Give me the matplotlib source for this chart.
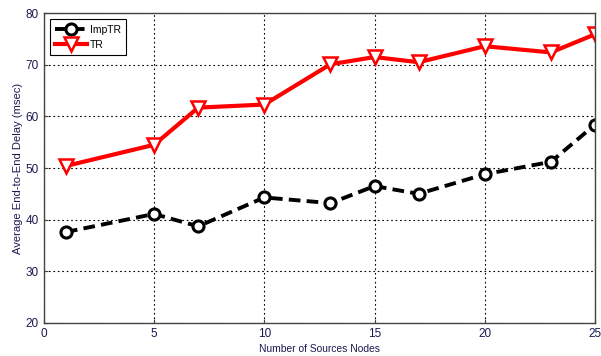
import matplotlib
matplotlib.use('Agg')
import matplotlib.pyplot as plt

plt.rcParams['font.family'] = ['Liberation Sans Narrow', 'Liberation Sans', 'DejaVu Sans']

nodes = [1, 5, 7, 10, 13, 15, 17, 20, 23, 25]
imptr = [37.6, 41.1, 38.7, 44.3, 43.2, 46.5, 45.0, 48.8, 51.2, 58.4]
tr = [50.4, 54.5, 61.7, 62.3, 70.1, 71.5, 70.5, 73.6, 72.4, 75.9]

xticks = [0, 5, 10, 15, 20, 25]
yticks = [20, 30, 40, 50, 60, 70, 80]

fig = plt.figure(figsize=(6.01, 3.56), dpi=100)
ax = fig.add_axes([0.073, 0.093, 0.917, 0.870])

ax.plot(nodes, imptr, color='black', linestyle='--', linewidth=2.8,
        marker='o', markersize=8, markerfacecolor='white',
        markeredgecolor='black', markeredgewidth=2.2, label='ImpTR', dashes=(3, 1.6))
ax.plot(nodes, tr, color='red', linestyle='-', linewidth=3.0,
        marker='v', markersize=10, markerfacecolor='white',
        markeredgecolor='red', markeredgewidth=1.8, label='TR')

ax.set_xlim(0, 25)
ax.set_ylim(20, 80)
ax.set_xticks(xticks)
ax.set_yticks(yticks)
ax.grid(True, color='black', linestyle=(0, (1.5, 2.5)), linewidth=0.8)

tick_color = '#1a1a50'
ax.tick_params(axis='both', labelsize=8.5, labelcolor=tick_color, direction='in',
               length=3, color='#444444')
for s in ax.spines.values():
    s.set_color('#444444')
    s.set_linewidth(1.0)

ax.set_xlabel('Number of Sources Nodes', fontsize=7.4, color=tick_color, labelpad=3)
ax.set_ylabel('Average End-to-End Delay (msec)', fontsize=8.1, color=tick_color,
              labelpad=2, family=['Liberation Sans', 'DejaVu Sans'])

leg = ax.legend(loc='upper left', fontsize=7.5, fancybox=False, framealpha=1,
                edgecolor='black', handlelength=3.0, borderpad=0.5,
                labelspacing=0.5, handletextpad=0.3, borderaxespad=0.6)
leg.get_frame().set_linewidth(0.8)

fig.savefig('out.png', dpi=100)
